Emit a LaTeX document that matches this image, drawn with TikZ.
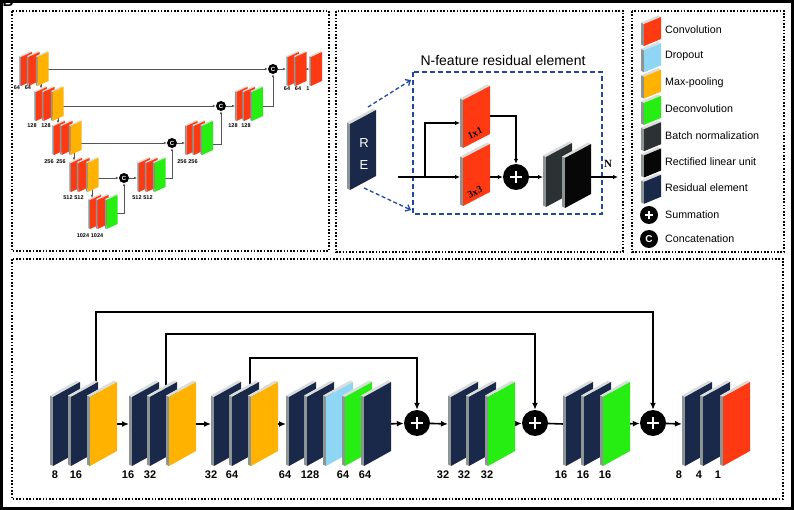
\documentclass[tikz,border=0pt]{standalone}
\usepackage{fontspec}
\setmainfont{Liberation Sans}
\newfontfamily\serifface{Liberation Serif}
\usetikzlibrary{arrows.meta}
\usetikzlibrary{calc}
\definecolor{navy}{HTML}{1A2849}
\definecolor{pool}{HTML}{FFB200}
\definecolor{deconv}{HTML}{27EE12}
\definecolor{conv}{HTML}{FF3A12}
\definecolor{drop}{HTML}{8ED6F4}
\definecolor{bnorm}{HTML}{2C3134}
\definecolor{relu}{HTML}{070707}
\definecolor{reblue}{HTML}{2148A2}
\definecolor{side}{HTML}{8C9594}
\definecolor{rim}{HTML}{D9DEDD}
\definecolor{wire}{HTML}{555555}
\tikzset{>={Latex[length=7pt,width=6pt]}}
\tikzset{panel/.style={line width=1.6pt,dash pattern=on 1.6pt off 1.7pt}}
\tikzset{sum/.style={circle,fill=black,inner sep=0pt,minimum size=#1,
  path picture={\draw[white,line width=0.11*#1]
    ([xshift=-0.23*#1]path picture bounding box.center) -- ([xshift=0.23*#1]path picture bounding box.center)
    ([yshift=-0.23*#1]path picture bounding box.center) -- ([yshift=0.23*#1]path picture bounding box.center);}}}
\tikzset{cat/.style={circle,fill=black,inner sep=0pt,minimum size=#1,text=white}}
\tikzset{unet/.style={wire,line width=0.9pt,-{Latex[length=3pt,width=2.6pt]}}}
\tikzset{ulabel/.style={inner sep=0pt,font=\bfseries\fontsize{5.5}{6}\selectfont}}
\tikzset{rline/.style={line width=1.3pt,-{Latex[length=5pt,width=4.5pt]}}}
\tikzset{bline/.style={line width=1.6pt}}
\tikzset{num/.style={inner sep=0pt,font=\bfseries\fontsize{11}{12}\selectfont}}
\tikzset{legend/.style={anchor=west,inner sep=0pt,font=\fontsize{10.7}{12}\selectfont}}
% one slab: top-left corner of its front face, colour
\newcommand\slab[3]{%
  \fill[side] (#1,#2) -- ++(-\lyd,-0.5*\lyd) -- ++(0,\lyh) -- (#1,#2+\lyh) -- cycle;
  \fill[rim] (#1,#2) -- ++(-\lyd,-0.5*\lyd) -- ++(\lyw,-\lyr) -- (#1+\lyw,#2-\lyr) -- cycle;
  \fill[#3] (#1,#2) -- (#1+\lyw,#2-\lyr) -- (#1+\lyw,#2-\lyr+\lyh) -- (#1,#2+\lyh) -- cycle;
}
\begin{document}
\begin{tikzpicture}[x=1pt,y=-1pt]
\useasboundingbox (0,0) rectangle (794,510);
\draw[line width=3pt] (1.5,1.5) rectangle (792.5,508.5);
\node[font=\bfseries\fontsize{15}{15}\selectfont] (tag) at (8,1) {B};

% panels
\draw[panel] (12,11) rectangle (329,251);
\draw[panel] (336,11) rectangle (623,252);
\draw[panel] (632,11) rectangle (784,252);
\draw[panel] (12,259) rectangle (783,499);

% U-Net
\node[cat=10pt,font=\bfseries\fontsize{6}{6}\selectfont] (c1) at (273,69) {C};
\node[cat=10pt,font=\bfseries\fontsize{6}{6}\selectfont] (c2) at (221,106) {C};
\node[cat=10pt,font=\bfseries\fontsize{6}{6}\selectfont] (c3) at (172,143) {C};
\node[cat=10pt,font=\bfseries\fontsize{6}{6}\selectfont] (c4) at (124,178) {C};
\coordinate (d1) at (44,69);
\coordinate (d2) at (60,106);
\coordinate (d3) at (78,143);
\coordinate (d4) at (95,178);
\draw[unet] (d1) -- (c1);
\draw[unet] (d2) -- (c2);
\draw[unet] (d3) -- (c3);
\draw[unet] (d4) -- (c4);
\foreach \x/\a/\b [count=\i] in {41/83/88.5, 58/117/123.5, 74/152/160.5, 92/189/198}{
  \coordinate (s\i) at (\x,\a);
  \coordinate (t\i) at (\x,\b);
  \draw[unet] (s\i) -- (t\i);
}
\coordinate (g5) at (113,213);
\coordinate (g4) at (160,178);
\coordinate (g3) at (208,144);
\coordinate (g2) at (258,106);
\coordinate (u4) at (137,178);
\coordinate (u3) at (185,143);
\coordinate (u2) at (235,106);
\coordinate (u1) at (286,69);
\coordinate (r1) at (303,69);
\coordinate (r2) at (309.5,69);
\draw[unet] (g5) -| (c4);
\draw[unet] (c4) -- (u4);
\draw[unet] (g4) -| (c3);
\draw[unet] (c3) -- (u3);
\draw[unet] (g3) -| (c2);
\draw[unet] (c2) -- (u2);
\draw[unet] (g2) -| (c1);
\draw[unet] (c1) -- (u1);
\draw[unet] (r1) -- (r2);
\def\lyw{11}\def\lyh{29}\def\lyr{5}\def\lyd{1.7}
\foreach \x/\y/\c in {21/57/pool, 36/92/pool, 54/126/pool, 71/163/pool, 90/200/deconv}{
  \slab{\x}{\y}{conv}
  \slab{\x+7.5}{\y}{conv}
  \slab{\x+16.5}{\y}{\c}
}
\foreach \x/\y/\c in {139/163/deconv, 186.5/126/deconv, 236.5/92/deconv, 288/57/none}{
  \slab{\x}{\y}{conv}
  \slab{\x+7.5}{\y}{conv}
}
\foreach \x/\y in {154.5/163, 202/126, 252/92}
  \slab{\x}{\y}{deconv};
\slab{311}{57}{conv}
\foreach \x/\y/\t [count=\i] in {17/88/64, 28/88/64, 32/126/128, 46/126/128,
    49/162/256, 61/162/256, 68/198/512, 79/198/512, 83/236/1024, 97/236/1024,
    137/198/512, 148/198/512, 182/162/256, 193/162/256, 233/126/128, 246/126/128,
    287/89/64, 298/89/64, 308/89/1}
  \node[ulabel] (ul\i) at (\x,\y) {\t};

% residual element
\node[font=\fontsize{14}{16}\selectfont] (title) at (503,61) {N-feature residual element};
\draw[reblue,line width=1.8pt,dash pattern=on 5pt off 3pt] (413,72) rectangle (602,214);
\coordinate (ra) at (368,107);
\coordinate (rb) at (411,80);
\coordinate (rc) at (364,188);
\coordinate (rd) at (411,210);
\draw[reblue,line width=1.3pt,dash pattern=on 4pt off 2.5pt,-{Straight Barb[length=4pt,width=7pt]}] (ra) -- (rb);
\draw[reblue,line width=1.3pt,dash pattern=on 4pt off 2.5pt,-{Straight Barb[length=4pt,width=7pt]}] (rc) -- (rd);
\def\lyw{26}\def\lyh{66}\def\lyr{14}\def\lyd{3}
\slab{350}{124}{navy}
\node[white,font=\fontsize{13}{13}\selectfont] (rtxt) at (364,143) {R};
\node[white,font=\fontsize{13}{13}\selectfont] (etxt) at (364,165) {E};
\node[sum=26pt] (plus) at (516,177) {};
\coordinate (in) at (398,177);
\coordinate (br) at (425,177);
\coordinate (k3) at (460,177);
\coordinate (k1) at (460,123);
\coordinate (o1) at (482,116);
\coordinate (o3) at (478,177);
\coordinate (bn) at (543,177);
\coordinate (o) at (586,177);
\coordinate (out) at (618,177);
\draw[rline] (in) -- (k3);
\draw[rline] (br) |- (k1);
\draw[rline] (o1) -| (plus);
\draw[rline] (o3) -- (plus);
\draw[rline] (plus) -- (bn);
\draw[rline] (o) -- (out);
\node[font=\serifface\bfseries\fontsize{11}{11}\selectfont] (nlab) at (608,164) {N};
\def\lyw{27}\def\lyh{48}\def\lyr{14}
\slab{463}{100}{conv}
\slab{463}{158}{conv}
\node[rotate=25,font=\serifface\bfseries\fontsize{10}{10}\selectfont] (k1x1) at (475,133) {1x1};
\node[rotate=25,font=\serifface\bfseries\fontsize{10}{10}\selectfont] (k3x3) at (475,192) {3x3};
\def\lyw{26}\def\lyh{50}
\slab{546}{157}{bnorm}
\slab{565}{158}{relu}

% legend
\def\lyw{17}\def\lyh{22}\def\lyr{7}\def\lyd{3}
\foreach \c/\t [count=\i] in {conv/Convolution, drop/Dropout, pool/Max-pooling,
    deconv/Deconvolution, bnorm/Batch normalization, relu/Rectified linear unit,
    navy/Residual element}{
  \slab{644}{26.3*\i-2.3}{\c}
  \node[legend] (lg\i) at (665,3.7+26.3*\i) {\t};
}
\node[sum=18pt] (lsum) at (649,215) {};
\node[legend] (lsumt) at (665,215) {Summation};
\node[cat=18pt,font=\bfseries\fontsize{10}{10}\selectfont] (lcat) at (649,239) {C};
\node[legend] (lcatt) at (665,239) {Concatenation};

% bottom network
\node[sum=26pt] (p1) at (417,423) {};
\node[sum=26pt] (p2) at (535,423) {};
\node[sum=26pt] (p3) at (653,423) {};
\coordinate (k1) at (96,390);
\coordinate (k2) at (166,390);
\coordinate (k3) at (250,390);
\draw[bline,->] (k1) -- (k1 |- 0,312) -| (p3);
\draw[bline,->] (k2) -- (k2 |- 0,334) -| (p2);
\draw[bline,->] (k3) -- (k3 |- 0,358) -| (p1);
\coordinate (a1) at (108,424);
\coordinate (b1) at (129,424);
\coordinate (a2) at (193,424);
\coordinate (b2) at (211,424);
\coordinate (a3) at (267,424);
\coordinate (b3) at (286,424);
\coordinate (a4) at (385,424);
\coordinate (b5) at (448,424);
\coordinate (a6) at (502,424);
\coordinate (b7) at (563,424);
\coordinate (a8) at (622,424);
\coordinate (b9) at (682,424);
\draw[bline,->] (a1) -- (b1);
\draw[bline,->] (a2) -- (b2);
\draw[bline,->] (a3) -- (b3);
\draw[bline,->] (a4) -- (p1);
\draw[bline,->] (p1) -- (b5);
\draw[bline,->] (a6) -- (p2);
\draw[bline] (p2) -- (b7);
\draw[bline,->] (a8) -- (p3);
\draw[bline,->] (p3) -- (b9);
\def\lyw{27}\def\lyh{69}\def\lyr{15}\def\lyd{3}
\foreach \x/\c in {53/navy, 71/navy, 90/pool, 132/navy, 150/navy, 169/pool,
    214/navy, 232/navy, 251/pool, 289/navy, 307/navy, 326/drop, 345/deconv, 364/navy,
    451/navy, 469/navy, 488/deconv, 566/navy, 584/navy, 603/deconv,
    685/navy, 703/navy, 723/conv}
  \slab{\x}{397}{\c};
\foreach \x/\t [count=\i] in {55/8, 76/16, 128/16, 150/32, 211/32, 232/64,
    285/64, 310/128, 343/64, 365/64, 443/32, 464/32, 487/32,
    561/16, 583/16, 605/16, 679/8, 699/4, 718/1}
  \node[num] (n\i) at (\x,475) {\t};
\end{tikzpicture}
\end{document}
